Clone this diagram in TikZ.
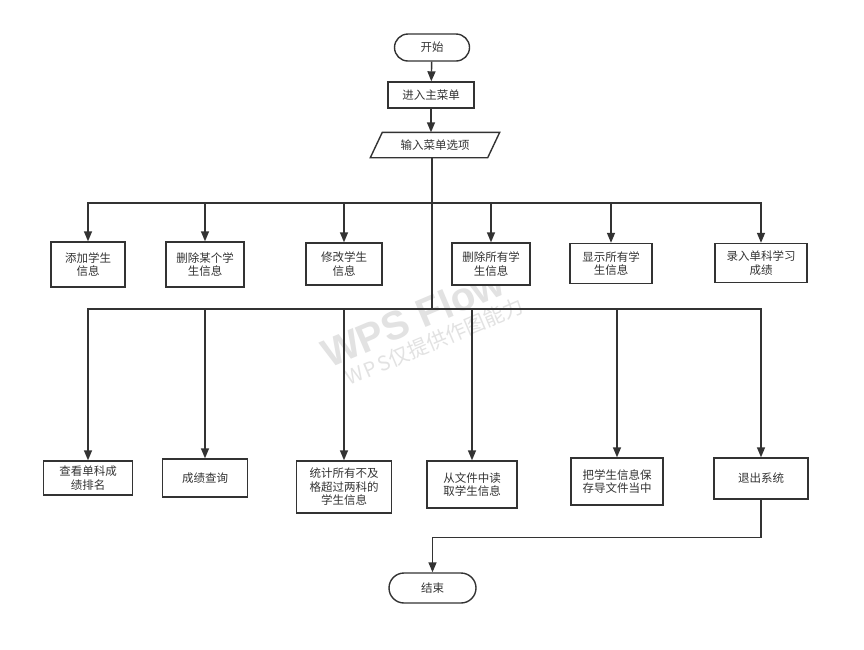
\documentclass[tikz,border=0pt]{standalone}
\usepackage{fontspec}
\setmainfont{Noto Sans CJK SC}
\newfontfamily\wmfont{Liberation Sans}
\usetikzlibrary{arrows.meta,shapes.misc}
\definecolor{ink}{HTML}{333333}
\definecolor{wm}{HTML}{E2E2E2}
\begin{document}
\begin{tikzpicture}[x=1pt,y=-1pt,
  line/.style={draw=ink,line width=1.4pt},
  arr/.style={line,-{Triangle[length=10pt,width=8pt]}},
  box/.style={draw=ink,line width=1.4pt,fill=white,align=center,text=ink,
    font=\fontsize{11.5}{13.5}\selectfont,inner sep=2pt},
  term/.style={box,rounded rectangle,minimum height=27pt},
  wmtext/.style={text=wm,rotate=23,inner sep=0pt,anchor=base west}]
\useasboundingbox (0,0) rectangle (864,649);
\fill[white] (0,0) rectangle (864,649);

% watermark
\node[wmtext,font=\wmfont\bfseries\fontsize{40}{40}\selectfont] (wm1) at (329,369) {WPS};
\node[wmtext,font=\wmfont\bfseries\fontsize{40}{40}\selectfont] (wm2) at (wm1.base east) {\hspace*{0.28em}Flow};
\node[wmtext,font=\fontsize{20}{20}\selectfont\addfontfeatures{LetterSpace=12}] (wm3) at (349,386) {WPS};
\node[wmtext,font=\fontsize{20.5}{20}\selectfont] (wm4) at (wm3.base east) {仅提供};
\node[wmtext,font=\fontsize{20.5}{20}\selectfont] (wm5) at (wm4.base east) {作图能力};

% main flow
\node[term,minimum width=79pt] (start) at (432,47.5) {开始};
\node[box,minimum width=86pt,minimum height=26pt] (menu) at (431,95) {进入主菜单};
\node[box,draw=none,fill=none,minimum width=116pt,minimum height=24pt] (inp) at (435,145) {};
\draw[line,fill=white] ([xshift=6pt]inp.north west) -- ([xshift=6pt]inp.north east)
  -- ([xshift=-6pt]inp.south east) -- ([xshift=-6pt]inp.south west) -- cycle;
\node[text=ink,font=\fontsize{11.5}{13.5}\selectfont] (inptxt) at (inp.center) {输入菜单选项};

\draw[arr] (start) -- (menu);
\draw[arr] (menu.south) -- (menu.south |- inp.north);

\coordinate (bus1) at (432,203);
\coordinate (bus2) at (432,309);
\coordinate (trunk) at (432,157);

% first row
\node[box,minimum width=74pt,minimum height=45pt] (a1) at (88,264.5) {添加学生\\信息};
\node[box,minimum width=78pt,minimum height=45pt] (a2) at (205,264.5) {删除某个学\\生信息};
\node[box,minimum width=76pt,minimum height=42pt] (a3) at (344,264) {修改学生\\信息};
\node[box,minimum width=78pt,minimum height=42pt] (a4) at (491,264) {删除所有学\\生信息};
\node[box,minimum width=82pt,minimum height=40pt] (a5) at (611,263.5) {显示所有学\\生信息};
\node[box,minimum width=92pt,minimum height=39pt] (a6) at (761,263) {录入单科学习\\成绩};

% second row
\node[box,minimum width=89pt,minimum height=34pt] (b1) at (88,478) {查看单科成\\绩排名};
\node[box,minimum width=85pt,minimum height=38pt] (b2) at (205,478) {成绩查询};
\node[box,minimum width=95pt,minimum height=52pt] (b3) at (344,487) {统计所有不及\\格超过两科的\\学生信息};
\node[box,minimum width=90pt,minimum height=47pt] (b4) at (472,484.5) {从文件中读\\取学生信息};
\node[box,minimum width=92pt,minimum height=47pt] (b5) at (617,481.5) {把学生信息保\\存导文件当中};
\node[box,minimum width=94pt,minimum height=41pt] (b6) at (761,478.5) {退出系统};

\node[term,minimum width=91pt,minimum height=30pt] (end) at (432.5,588) {结束};

% trunk and buses
\draw[line] (trunk) -- (bus2);
\foreach \n in {a1,a2,a3,a4,a5,a6}
  \draw[arr] (bus1) -| (\n.north);
\foreach \n in {b1,b2,b3,b4,b5,b6}
  \draw[arr] (bus2) -| (\n.north);

\draw[arr] (b6.south) -- ++(0,38) -| (end.north);
\end{tikzpicture}
\end{document}
